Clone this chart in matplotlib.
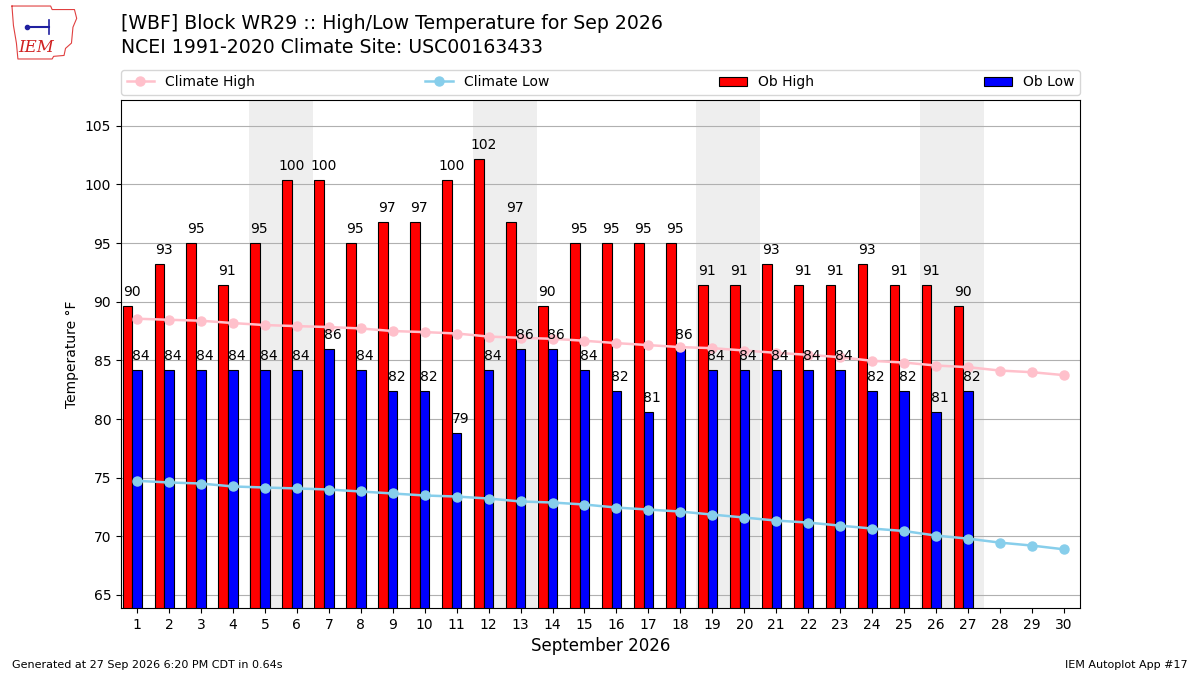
import matplotlib
matplotlib.use('Agg')
import matplotlib.pyplot as plt
import numpy as np

# observed values (F), Sep 1 - 27
ob_high = [89.6, 93.2, 95.0, 91.4, 95.0, 100.4, 100.4, 95.0, 96.8, 96.8,
           100.4, 102.2, 96.8, 89.6, 95.0, 95.0, 95.0, 95.0, 91.4, 91.4,
           93.2, 91.4, 91.4, 93.2, 91.4, 91.4, 89.6]
ob_low = [84.2, 84.2, 84.2, 84.2, 84.2, 84.2, 86.0, 84.2, 82.4, 82.4,
          78.8, 84.2, 86.0, 86.0, 84.2, 82.4, 80.6, 86.0, 84.2, 84.2,
          84.2, 84.2, 84.2, 82.4, 82.4, 80.6, 82.4]
# NCEI 1991-2020 climatology, Sep 1 - 30
clim_high = [88.55, 88.46, 88.38, 88.18, 88.01, 87.92, 87.84, 87.72, 87.50, 87.41,
             87.29, 87.03, 86.92, 86.84, 86.67, 86.47, 86.30, 86.13, 86.04, 85.84,
             85.64, 85.47, 85.27, 84.96, 84.81, 84.56, 84.42, 84.13, 83.99, 83.74]
clim_low = [74.73, 74.59, 74.50, 74.25, 74.16, 74.08, 73.99, 73.82, 73.65, 73.48,
            73.39, 73.22, 72.97, 72.88, 72.71, 72.45, 72.28, 72.11, 71.85, 71.60,
            71.34, 71.17, 70.91, 70.66, 70.45, 70.06, 69.80, 69.46, 69.21, 68.89]
weekends = [5, 6, 12, 13, 19, 20, 26, 27]

ob_days = np.arange(1, len(ob_high) + 1)
clim_days = np.arange(1, len(clim_high) + 1)

fig = plt.figure(figsize=(12, 6.75), dpi=100)
ax = fig.add_axes([0.1008, 0.0993, 0.7992, 0.7526])

for d in weekends:
    ax.axvspan(d - 0.5, d + 0.5, color='#EEEEEE', lw=0, zorder=0)

ax.plot(clim_days, clim_high, color='pink', marker='o', ms=6.5, lw=1.8,
        label='Climate High', zorder=3)
ax.plot(clim_days, clim_low, color='skyblue', marker='o', ms=6.5, lw=1.8,
        label='Climate Low', zorder=3)
ax.bar(ob_days - 0.3, ob_high, width=0.3, color='r', edgecolor='k', lw=0.8,
       label='Ob High', zorder=2)
ax.bar(ob_days, ob_low, width=0.3, color='b', edgecolor='k', lw=0.8,
       label='Ob Low', zorder=2)

for x, v in zip(ob_days, ob_high):
    ax.text(x - 0.17, v + 0.6, '%.0f' % v, ha='center', va='bottom', fontsize=10, zorder=4)
for x, v in zip(ob_days, ob_low):
    ax.text(x + 0.12, v + 0.6, '%.0f' % v, ha='center', va='bottom', fontsize=10, zorder=4)

ax.set_xlim(0.5, 30.5)
ax.set_ylim(min(clim_low) - 5, max(ob_high) + 5)
ax.set_xticks(clim_days)
ax.set_yticks(np.arange(65, 106, 5))
ax.grid(True, axis='y', color='#b0b0b0', zorder=1)
ax.set_axisbelow(True)
ax.set_ylabel('Temperature °F')
ax.set_xlabel('September 2026', fontsize=12)

ax.legend(loc='lower left', bbox_to_anchor=(0, 1.01, 1, 0.05), ncol=4,
          mode='expand', borderaxespad=0, fontsize=10)

fig.text(0.1008, 0.979, '[WBF] Block WR29 :: High/Low Temperature for Sep 2026\n'
         'NCEI 1991-2020 Climate Site: USC00163433',
         fontsize=13.6, va='top', ha='left', linespacing=1.3)
fig.text(0.01, 0.01, 'Generated at 27 Sep 2026 6:20 PM CDT in 0.64s', fontsize=8)
fig.text(0.99, 0.01, 'IEM Autoplot App #17', fontsize=8, ha='right')

# rough IEM logo
lax = fig.add_axes([0.005, 0.91, 0.062, 0.085])
lax.axis('off')
lax.set_xlim(0, 100)
lax.set_ylim(0, 65)
ox = [8, 60, 62, 92, 95, 90, 88, 80, 78, 64, 62, 16, 14, 10, 8]
oy = [62, 62, 58, 58, 48, 38, 20, 14, 6, 5, 2, 2, 20, 40, 62]
lax.plot(ox, oy, color='#E04040', lw=0.8)
lax.plot([28, 58], [38, 38], color='#2020A0', lw=1.5)
lax.plot([28], [38], 'o', color='#2020A0', ms=3)
lax.plot([58, 58], [30, 46], color='#2020A0', lw=1.2)
lax.text(40, 10, 'IEM', color='#D02020', fontsize=12, family='DejaVu Serif',
         style='italic', ha='center')

fig.savefig('out.png', dpi=100)
